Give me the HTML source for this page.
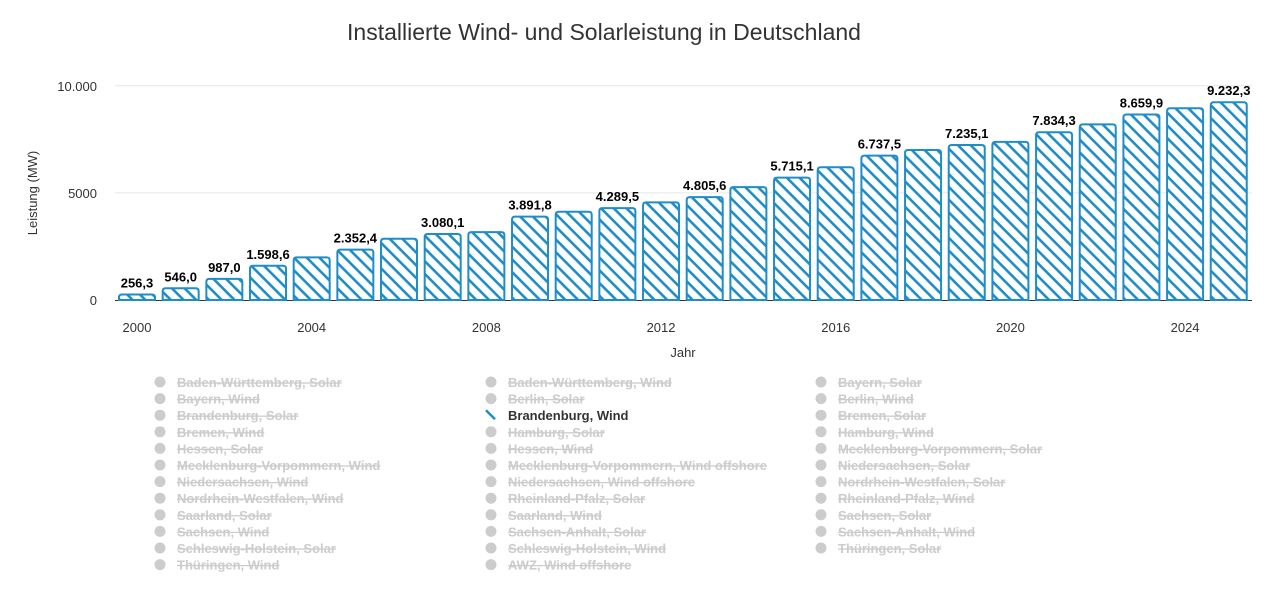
<!DOCTYPE html>
<html><head><meta charset="utf-8"><style>
body{margin:0;background:#fff;font-family:"Liberation Sans",sans-serif;}
svg text{font-family:"Liberation Sans",sans-serif;}
</style></head><body>
<svg id="c" width="1280" height="602" xmlns="http://www.w3.org/2000/svg">
<defs><pattern id="hatch" patternUnits="userSpaceOnUse" width="9" height="9" patternTransform="rotate(45)">
<rect width="9" height="9" fill="#fff"/><rect x="0" y="0" width="9" height="2.6" fill="#1f8dc8"/></pattern></defs>
<text x="604" y="40" font-size="23" fill="#333" text-anchor="middle">Installierte Wind- und Solarleistung in Deutschland</text>
<g id="grid"></g><g id="bars"></g><g id="labels"></g><g id="legend"></g>
<text transform="translate(37,193) rotate(-90)" font-size="13" fill="#333" text-anchor="middle">Leistung (MW)</text>
<text x="683" y="357" font-size="13" fill="#333" text-anchor="middle">Jahr</text>
</svg>
<script>
const years=[2000,2001,2002,2003,2004,2005,2006,2007,2008,2009,2010,2011,2012,2013,2014,2015,2016,2017,2018,2019,2020,2021,2022,2023,2024,2025];
const values=[256.3,546.0,987.0,1598.6,1990,2352.4,2860,3080.1,3170,3891.8,4120,4289.5,4560,4805.6,5270,5715.1,6200,6737.5,7000,7235.1,7380,7834.3,8200,8659.9,8950,9232.3];
const labeled=[1,1,1,1,0,1,0,1,0,1,0,1,0,1,0,1,0,1,0,1,0,1,0,1,0,1];
const yTicks=[0,5000,10000];
const yTickLabels=["0","5000","10.000"];
const xTicks=[2000,2004,2008,2012,2016,2020,2024];
const legendItems=["Baden-Württemberg, Solar","Baden-Württemberg, Wind","Bayern, Solar","Bayern, Wind","Berlin, Solar","Berlin, Wind","Brandenburg, Solar","Brandenburg, Wind","Bremen, Solar","Bremen, Wind","Hamburg, Solar","Hamburg, Wind","Hessen, Solar","Hessen, Wind","Mecklenburg-Vorpommern, Solar","Mecklenburg-Vorpommern, Wind","Mecklenburg-Vorpommern, Wind offshore","Niedersachsen, Solar","Niedersachsen, Wind","Niedersachsen, Wind offshore","Nordrhein-Westfalen, Solar","Nordrhein-Westfalen, Wind","Rheinland-Pfalz, Solar","Rheinland-Pfalz, Wind","Saarland, Solar","Saarland, Wind","Sachsen, Solar","Sachsen, Wind","Sachsen-Anhalt, Solar","Sachsen-Anhalt, Wind","Schleswig-Holstein, Solar","Schleswig-Holstein, Wind","Thüringen, Solar","Thüringen, Wind","AWZ, Wind offshore"];
const NS="http://www.w3.org/2000/svg";
const y=v=>300-v*0.02142;
const x=yr=>137+(yr-2000)*43.67;
function mk(t,a,p){const e=document.createElementNS(NS,t);for(const k in a)e.setAttribute(k,a[k]);p.appendChild(e);return e;}
const grid=document.getElementById('grid');
yTicks.forEach((t,i)=>{
 if(t>0){const l=mk('line',{x1:115,x2:1252,y1:y(t),y2:y(t),stroke:'#e6e6e6'},grid);
 
 }
 const tx=mk('text',{x:97,y:y(t)+5,'font-size':13,fill:'#333','text-anchor':'end'},grid);tx.textContent=yTickLabels[i];
 
 
});
xTicks.forEach(t=>{const tx=mk('text',{x:x(t),y:332,'font-size':13,fill:'#333','text-anchor':'middle'},grid);tx.textContent=t;
 
 });
const bars=document.getElementById('bars'),labs=document.getElementById('labels');
values.forEach((v,i)=>{
 const cx=x(years[i]),w=36,top=y(v),r=3;
 const d=`M${cx-w/2},300 L${cx-w/2},${top+r} Q${cx-w/2},${top} ${cx-w/2+r},${top} L${cx+w/2-r},${top} Q${cx+w/2},${top} ${cx+w/2},${top+r} L${cx+w/2},300 Z`;
 const b=mk('path',{d:d,fill:'url(#hatch)',stroke:'#1f8dc8','stroke-width':2},bars);
 
 
 if(labeled[i]){const t=mk('text',{x:cx,y:top-7,'font-size':13,'font-weight':'bold',fill:'#000','text-anchor':'middle'},labs);
 t.textContent=v.toFixed(1).replace('.',',').replace(/\B(?=(\d{3})+(?!\d))/g,'.');
 
 }
});
mk('line',{x1:115,x2:1252,y1:300.5,y2:300.5,stroke:'#333','stroke-width':1},grid);
const lg=document.getElementById('legend');
legendItems.forEach((n,i)=>{
 const col=i%3,row=Math.floor(i/3);
 const lx=[160,491,821][col],ly=382+row*16.6;
 const g=mk('g',{},lg);
 
 
 const active=n==="Brandenburg, Wind";
 if(active){mk('line',{x1:lx-5,y1:ly-5,x2:lx+4,y2:ly+4,stroke:'#1f8dc8','stroke-width':2.5},g);}
 else mk('circle',{cx:lx,cy:ly,r:5.5,fill:'#ccc'},g);
 const t=mk('text',{x:lx+17,y:ly+5,'font-size':13,'font-weight':'bold',fill:active?'#333':'#ccc','text-decoration':active?'none':'line-through'},g);
 t.textContent=n;
});
</script>
</body></html>
